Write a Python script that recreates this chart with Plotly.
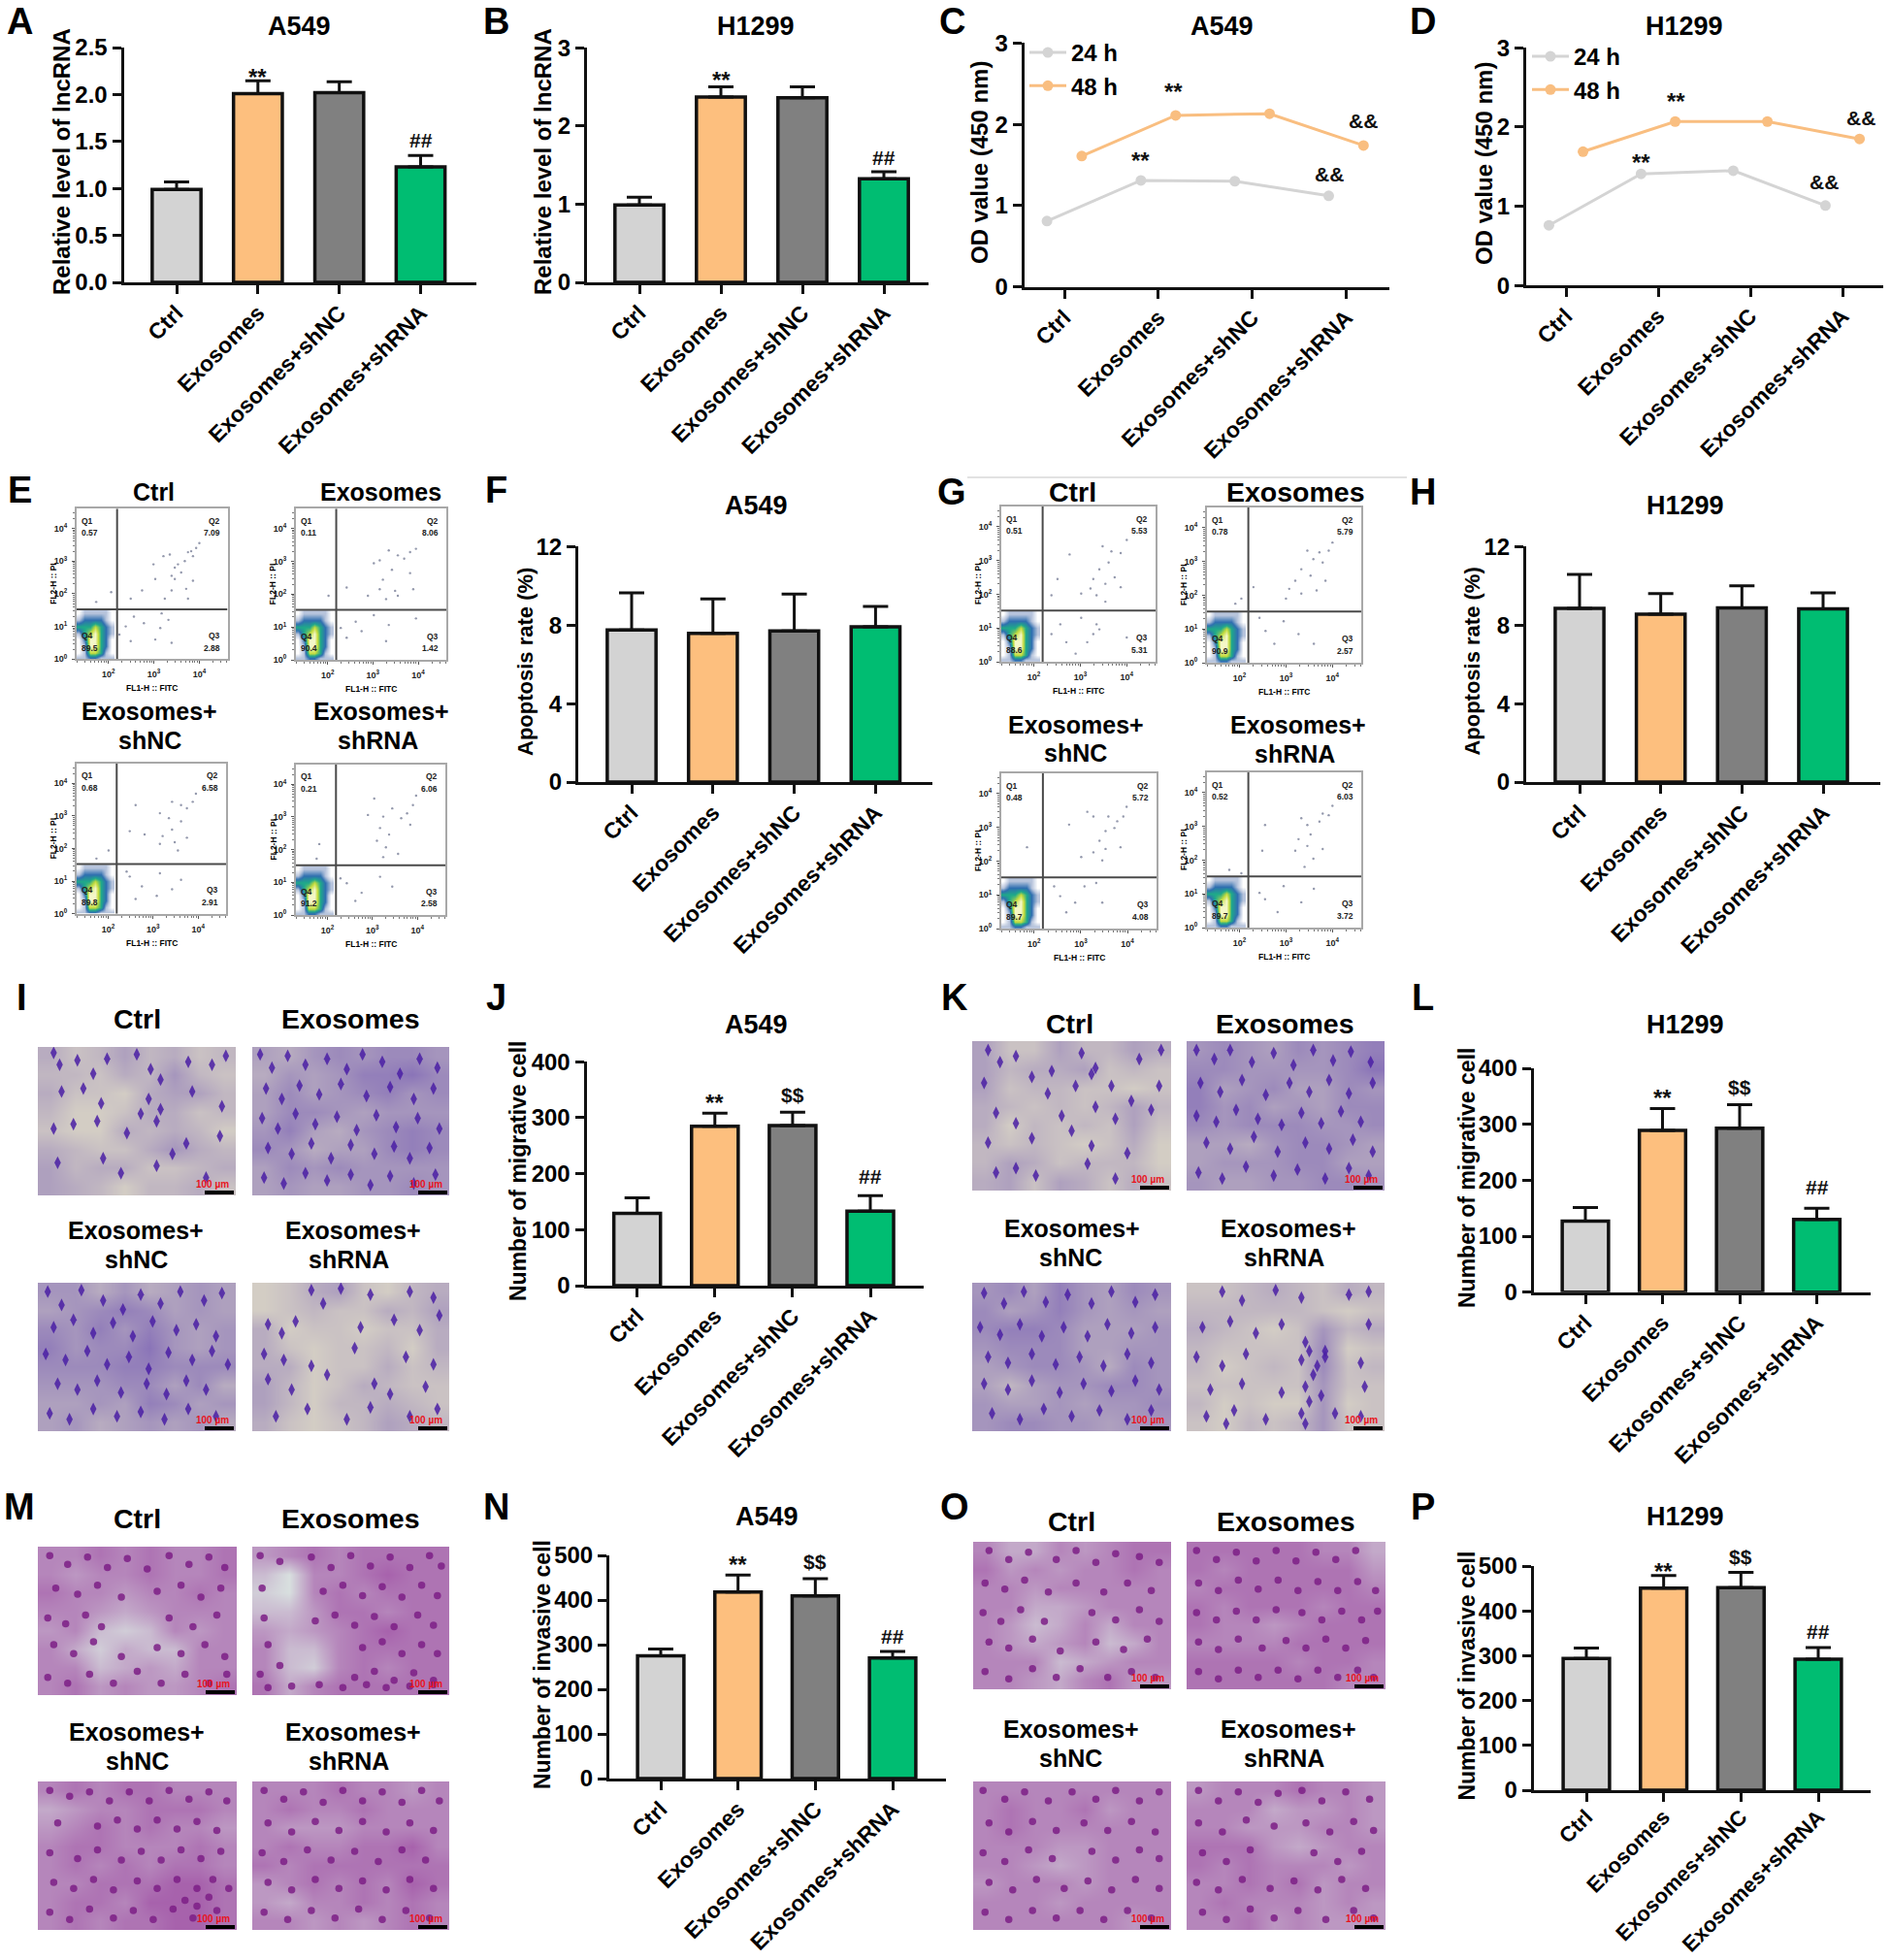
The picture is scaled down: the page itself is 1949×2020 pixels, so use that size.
import plotly.graph_objects as go

W, H = 1949, 2020
FONT = "Liberation Sans"
INK = "#111111"

groups = ["Ctrl", "Exosomes", "Exosomes+shNC", "Exosomes+shRNA"]
bar_colors = ["#d3d3d3", "#fdbf7e", "#808080", "#00bd72"]

# --- bar values (mean, top of error bar) ---
a_mean = [0.99, 2.01, 2.02, 1.23]
a_top = [1.07, 2.145, 2.135, 1.35]
b_mean = [0.99, 2.37, 2.36, 1.325]
b_top = [1.09, 2.50, 2.50, 1.415]
f_mean = [7.75, 7.58, 7.70, 7.91]
f_top = [9.64, 9.33, 9.58, 8.95]
h_mean = [8.85, 8.55, 8.88, 8.82]
h_top = [10.58, 9.60, 10.0, 9.64]
j_mean = [129, 285, 286, 133]
j_top = [157, 308, 310, 161]
l_mean = [127, 289, 293, 130]
l_top = [151, 328, 335, 150]
n_mean = [275, 418, 409, 270]
n_top = [290, 456, 448, 285]
p_mean = [294, 451, 452, 292]
p_top = [317, 479, 486, 318]

# --- OD lines ---
c_24h = [0.81, 1.31, 1.30, 1.12]
c_48h = [1.61, 2.11, 2.13, 1.74]
d_24h = [0.76, 1.41, 1.45, 1.01]
d_48h = [1.69, 2.07, 2.07, 1.85]
line_offset = [-0.185, 0.185]

# --- flow cytometry quadrant percentages: Q1, Q2, Q3, Q4 ---
e1_q = ["0.57", "7.09", "2.88", "89.5"]
e2_q = ["0.11", "8.06", "1.42", "90.4"]
e3_q = ["0.68", "6.58", "2.91", "89.8"]
e4_q = ["0.21", "6.06", "2.58", "91.2"]
g1_q = ["0.51", "5.53", "5.31", "88.6"]
g2_q = ["0.78", "5.79", "2.57", "90.9"]
g3_q = ["0.48", "5.72", "4.08", "89.7"]
g4_q = ["0.52", "6.03", "3.72", "89.7"]

# --- flow events (log10 units) ---
e1_x = [4.0,3.93,3.82,3.75,3.86,3.68,3.35,3.21,3.46,3.39,2.99,3.03,3.6,3.86,3.39,3.71,2.74,2.49,3.24,3.75,2.06,1.73,3.46,3.53,2.56,2.38,2.78,3.14,3.32,3.03,2.49,3.39,3.17,2.24]
e1_y = [3.55,3.4,3.3,3.27,3.15,3.0,3.2,3.15,2.8,2.55,2.9,2.45,2.65,2.4,2.1,2.15,2.1,1.85,1.85,1.85,2.05,1.75,2.45,2.9,1.3,1.0,1.1,0.95,1.2,0.6,0.55,0.5,1.4,0.75]
e2_x = [3.95,3.82,3.69,3.55,3.35,3.15,3.02,3.42,3.22,3.82,3.15,3.49,3.89,2.89,2.42,2.02,3.29,3.55,2.62,2.29,2.75,3.35,3.02,2.42,3.29,3.95]
e2_y = [3.38,3.28,3.08,3.18,3.33,3.03,2.94,2.74,2.44,2.64,2.15,2.1,2.15,1.95,2.2,1.95,1.85,1.95,1.16,0.97,0.87,1.06,1.36,0.67,0.57,1.26]
e3_x = [3.95,3.88,3.75,3.62,3.42,3.15,3.35,3.62,3.42,3.21,3.48,3.15,3.75,2.61,2.48,2.81,2.01,1.74,3.55,2.48,2.75,3.15,3.62,3.08,2.61,2.41,3.42]
e3_y = [3.68,3.43,3.23,3.33,3.43,3.08,2.93,2.83,2.58,2.38,2.19,2.14,2.33,3.33,2.53,2.43,1.94,1.69,1.94,1.14,0.84,1.24,1.04,0.55,0.45,1.29,0.75]
e4_x = [3.97,3.9,3.77,3.64,3.44,3.24,3.04,3.17,3.37,3.84,3.3,3.1,3.57,3.24,1.82,1.76,2.9,2.29,2.76,3.17,3.44,2.62,2.43]
e4_y = [3.65,3.36,3.11,2.96,3.26,3.01,3.56,2.66,2.46,2.76,2.07,2.27,1.87,1.77,2.17,1.72,3.06,1.12,0.68,1.17,0.87,0.43,0.97]
g1_x = [4.0,3.87,3.67,3.48,3.61,3.41,3.28,3.74,3.54,3.22,3.35,3.87,3.02,2.51,2.77,2.38,3.54,3.35,3.28,3.15,3.41,2.57,2.38,3.02,4.0,2.9,2.7]
g1_y = [3.61,3.22,3.27,3.42,2.94,2.74,2.45,2.5,2.31,2.17,1.97,2.21,2.02,2.45,3.18,1.97,1.78,1.11,0.82,0.58,0.96,1.11,0.82,1.3,0.72,0.24,0.58]
g2_x = [4.0,3.92,3.72,3.46,3.59,3.79,3.33,3.53,3.2,3.85,3.07,3.33,3.66,2.3,3.0,2.04,1.91,2.56,2.95,3.27,3.6,2.75,2.43]
g2_y = [3.56,3.32,3.27,3.32,3.07,2.97,2.77,2.58,2.43,2.43,2.19,2.05,2.14,2.24,1.9,1.9,1.75,0.94,1.23,0.85,0.56,0.56,1.33]
g3_x = [3.98,3.91,3.78,3.59,3.27,3.14,3.72,3.53,3.4,3.53,3.27,3.85,2.75,3.01,1.85,3.46,2.56,2.88,3.46,3.08,3.33,2.43,2.69]
g3_y = [3.61,3.32,3.18,3.32,3.32,3.46,2.98,2.89,2.6,2.36,2.26,2.41,3.08,2.12,2.41,2.02,0.96,0.77,0.77,1.25,1.35,1.25,0.48]
g4_x = [4.0,3.92,3.72,3.79,3.46,3.33,3.53,3.27,3.46,3.2,3.79,3.59,3.4,2.49,2.55,1.78,2.04,2.55,2.95,3.33,3.6,2.82,2.43]
g4_y = [3.61,3.33,3.14,3.38,3.04,3.24,2.76,2.62,2.42,2.28,2.33,2.04,1.8,2.28,3.04,1.71,1.61,0.84,1.23,0.75,1.15,0.46,1.03]

# dense Q4 population: estimated pseudo-colour level on a coarse log grid
q4_lx = [1.35, 1.47, 1.59, 1.71, 1.83, 1.95, 2.07]
q4_ly = [0.05, 0.2, 0.4, 0.6, 0.8, 1.0, 1.2, 1.4]
q4_level = [
    [1, 1, 2, 2, 1, 1, 1],
    [0, 1, 4, 4, 3, 1, 0],
    [0, 1, 5, 5, 3, 2, 0],
    [0, 2, 5, 5, 3, 2, 0],
    [1, 3, 4, 5, 3, 2, 1],
    [3, 3, 3, 4, 3, 2, 1],
    [1, 2, 2, 2, 2, 1, 0],
    [0, 1, 1, 1, 1, 1, 0],
]

# --- stain density estimated on an 8x8 grid over every micrograph (top row first) ---
i1 = ["42353423","33243632","42214553","31124423","21143431","43224643","53442234","54313342"]
i2 = ["54676776","46568897","57567867","57765666","68546787","76455787","57676666","56556676"]
i3 = ["66464565","56787565","76868656","86779656","77788777","66677574","55658756","56456564"]
i4 = ["12452134","12322435","41221224","42122314","44122423","53124322","53133432","42123543"]
k1 = ["52253354","53445232","52332212","43232353","41323252","32321241","35423331","45254242"]
k2 = ["67657678","77666679","85675576","86756577","76777667","55467765","56667755","65566776"]
k3 = ["67586576","75686565","78875556","67775566","56776476","53566776","65565667","67766566"]
k4 = ["22343243","33333212","43212634","32222712","31232723","22222622","31211612","21323622"]
m1 = ["66767667","65667667","76656676","66545666","56323656","64243366","66345466","67565567"]
m2 = ["56767777","31667877","21676777","33577677","54567877","63367777","63267677","74677777"]
m3 = ["67677666","45667776","56767665","67766676","67676776","66777887","67768887","67677887"]
m4 = ["66676656","67667666","65556666","67667786","76777777","56767687","54667676","66565676"]
o1 = ["64465677","75656676","66566666","66445666","65346466","65456346","66634566","66546755"]
o2 = ["77777664","76777775","67777776","76777677","76656777","66667777","77776776","77777766"]
o3 = ["66666666","67667566","67666666","66655666","66545666","56665666","66656666","66666656"]
o4 = ["56667665","66645565","66555665","77754566","76766656","66767566","67666565","66756555"]

# --- most conspicuous stained cells, estimated in percent of each micrograph ---
i1_x = [8,11,20,28,35,50,57,62,76,88,95,12,23,32,56,62,78,93,8,18,30,45,52,60,75,92,10,33,42,60,68,85]
i1_y = [4,12,9,18,8,5,15,22,10,12,6,30,28,38,35,42,30,40,55,52,50,58,45,50,65,60,78,75,85,80,72,88]
i2_x = [4,10,18,27,38,48,56,66,75,85,94,7,15,24,34,45,58,70,82,92,5,13,22,32,43,53,63,73,84,95,8,20,30,40,50,62,72,80,90,6,16,27,38,50,60,70,82,93]
i2_y = [5,14,6,12,8,15,5,10,18,8,14,28,35,26,32,25,33,27,35,28,48,55,45,52,47,56,46,54,48,55,68,72,65,75,66,72,67,75,68,88,92,85,90,86,93,87,92,86]
i3_x = [5,12,22,33,43,52,62,72,84,93,8,18,28,38,48,58,70,80,90,4,14,25,35,46,56,66,78,88,96,10,20,30,42,55,65,75,85,6,16,28,40,52,64,76,90]
i3_y = [6,15,5,12,18,8,14,6,12,7,30,25,34,27,36,26,32,28,36,48,52,46,55,50,58,47,52,46,55,68,72,66,74,68,75,66,72,88,92,85,90,87,92,85,90]
i4_x = [30,36,45,60,80,92,8,15,22,55,72,85,95,6,16,30,52,78,92,8,20,38,62,70,88,12,28,48,60,80,94]
i4_y = [5,14,4,8,6,10,28,34,26,30,25,32,22,48,52,56,44,50,55,65,72,62,68,75,70,90,85,92,84,90,85]
k1_x = [8,14,22,40,55,62,70,84,95,6,30,38,52,60,80,94,12,22,45,62,72,90,8,30,50,78,22,32,58,72,12,60]
k1_y = [6,14,10,20,8,18,30,12,6,28,24,35,30,22,40,30,48,55,50,44,52,46,68,65,60,75,85,90,82,92,88,70]
k2_x = [5,14,22,33,44,54,64,74,83,93,7,17,28,40,52,62,72,82,94,5,15,25,36,48,58,68,78,88,10,22,34,46,60,72,84,94,6,18,30,44,56,70,82,92]
k2_y = [6,12,6,14,8,16,6,13,7,14,28,34,26,36,28,34,26,35,28,50,54,46,52,56,48,55,47,54,68,72,64,74,68,72,66,74,88,92,84,90,86,92,85,90]
k3_x = [6,16,26,37,48,60,70,82,92,4,14,24,35,46,58,68,80,92,8,18,30,42,54,66,78,90,6,18,30,44,56,70,82,94,10,24,36,50,64,78,90]
k3_y = [7,14,6,13,8,14,6,13,8,30,35,28,36,30,36,28,34,30,50,54,48,55,50,56,48,54,68,72,66,74,68,73,66,72,88,92,85,90,86,92,86]
k4_x = [18,28,45,58,82,92,8,22,35,48,60,70,92,5,18,30,58,62,66,70,88,12,28,48,60,64,68,90,10,24,40,58,62,75,88,60,20]
k4_y = [6,12,5,10,8,6,30,26,34,28,40,46,28,50,56,48,52,46,56,50,54,72,68,74,70,62,76,70,90,86,92,88,80,88,90,95,95]
m1_x = [6,15,25,35,45,55,66,76,86,94,9,20,30,42,60,72,82,92,5,14,24,32,66,78,90,8,18,28,42,60,72,84,94,5,15,26,38,50,62,74,86,95]
m1_y = [6,12,7,14,8,15,6,12,7,14,28,32,26,34,30,26,34,28,48,52,46,54,48,54,46,66,72,64,74,68,72,66,74,88,92,86,92,84,92,86,92,86]
m2_x = [4,14,30,40,50,60,70,80,90,96,5,36,46,56,66,76,86,94,6,32,42,52,62,72,84,92,8,56,66,76,86,94,4,14,52,62,72,82,92,8,20,34,46,58,68,80,92]
m2_y = [6,10,7,14,6,13,7,14,6,13,28,30,26,33,27,34,26,33,48,50,46,53,47,54,46,53,66,68,64,72,66,72,86,80,88,84,90,85,90,95,94,93,95,93,95,94,93]
m3_x = [6,16,26,36,46,56,66,76,86,95,10,30,40,50,60,70,80,90,6,20,30,42,52,62,72,82,92,8,18,28,38,50,60,70,80,88,96,6,16,26,38,48,58,68,78,90,74,80,86]
m3_y = [6,10,7,13,7,13,6,12,7,13,28,30,26,32,26,32,27,33,48,52,46,53,47,53,46,52,47,68,72,66,73,67,72,66,72,66,72,88,93,86,92,87,93,86,92,87,80,84,78]
m4_x = [6,16,26,36,46,56,66,76,86,95,8,20,32,44,56,68,80,92,5,16,28,40,52,64,76,88,8,20,32,44,56,68,80,92,6,18,30,42,54,66,78,90]
m4_y = [6,12,7,14,6,13,7,14,6,13,28,34,27,33,27,34,28,33,48,54,46,53,47,54,46,53,68,73,66,72,67,73,66,72,88,93,87,92,86,93,87,92]
o1_x = [8,18,28,42,52,62,72,84,94,6,16,26,38,52,66,78,90,5,14,24,36,60,72,84,94,8,18,30,44,62,76,88,6,18,30,42,54,68,80,92]
o1_y = [6,12,7,12,6,14,8,10,14,28,32,26,34,28,34,28,33,48,54,46,54,48,53,46,54,68,72,66,74,68,73,66,88,93,86,92,86,92,88,92]
o2_x = [5,15,25,35,45,55,65,75,85,6,16,26,36,46,56,66,76,86,95,5,15,25,35,45,58,68,78,88,96,6,16,26,38,50,60,70,80,90,6,16,26,36,46,56,66,76,86,94]
o2_y = [6,12,7,13,6,13,7,12,6,28,33,26,32,26,33,27,33,27,33,48,53,47,53,46,48,53,47,53,47,68,73,66,72,67,72,66,72,67,88,93,87,92,87,93,87,92,87,92]
o3_x = [5,16,26,38,50,62,72,84,94,8,18,30,42,56,68,80,92,5,16,28,40,60,72,84,94,8,20,32,46,58,70,82,94,6,18,30,42,54,66,78,90]
o3_y = [6,12,7,13,7,12,6,13,7,28,34,27,33,28,33,27,34,48,54,46,52,47,53,46,52,68,73,66,72,67,73,66,72,88,93,87,92,87,93,87,92]
o4_x = [6,16,26,36,46,58,68,80,92,6,18,30,44,60,72,84,94,8,20,32,64,76,88,5,16,28,42,54,66,78,90,8,20,32,44,56,70,84,94]
o4_y = [6,13,7,14,8,6,13,7,12,28,34,26,30,28,34,27,33,48,54,46,48,54,47,68,73,66,72,67,73,66,72,88,93,86,92,87,93,87,92]

fig = go.Figure()
layout = {}
annotations = []
shapes = []
axis_count = [0]


def new_axes(px0, px1, py_top, py_bot, xa, ya):
    axis_count[0] += 1
    n = axis_count[0]
    sx = "" if n == 1 else str(n)
    layout["xaxis" + sx] = dict(domain=[px0 / W, px1 / W], anchor="y" + sx, automargin=False, **xa)
    layout["yaxis" + sx] = dict(domain=[1 - py_bot / H, 1 - py_top / H], anchor="x" + sx, automargin=False, **ya)
    return "x" + sx, "y" + sx


def text(px, py, s, size=24, bold=True, angle=0, color="#000000"):
    annotations.append(dict(
        x=px / W, y=1 - py / H, xref="paper", yref="paper", text=s, showarrow=False,
        xanchor="center", yanchor="middle", textangle=angle,
        font=dict(family=FONT, size=size, color=color, weight=700 if bold else 400),
    ))


def marks(xr, py_top, py_bot, ymax, items):
    # x follows the panel's axis; y is placed on the page because some marks sit above the axis range
    for mx, my, s in items:
        star = s == "**"
        py = py_bot - my / ymax * (py_bot - py_top)
        annotations.append(dict(
            x=mx, y=1 - py / H, xref=xr, yref="paper", text=s, showarrow=False,
            xanchor="center", yanchor="middle", yshift=-5 if star else 0,
            font=dict(family=FONT, size=24 if star else 21, color=INK, weight=700),
        ))


def chart_axes(px0, px1, py_top, py_bot, first, last, ymax, yticks, yticktext, xsize=23, standoff=-3):
    s = (last - first) / 3
    xa = dict(
        range=[(px0 - first) / s, (px1 - first) / s], tickmode="array", tickvals=[0, 1, 2, 3],
        ticktext=groups, tickangle=-45, ticks="outside", ticklen=9, tickwidth=3, tickcolor=INK,
        ticklabelstandoff=standoff,
        showline=True, linewidth=3, linecolor=INK, showgrid=False, zeroline=False,
        tickfont=dict(family=FONT, size=xsize, color="#000", weight=700),
    )
    ya = dict(
        range=[0, ymax], tickmode="array", tickvals=yticks, ticktext=yticktext,
        ticks="outside", ticklen=9, tickwidth=3, tickcolor=INK, showline=True, linewidth=3,
        linecolor=INK, showgrid=False, zeroline=False,
        tickfont=dict(family=FONT, size=24, color="#000", weight=700),
    )
    return new_axes(px0, px1, py_top, py_bot, xa, ya)


def bar_panel(px0, px1, py_top, py_bot, first, last, ymax, yticks, yticktext, mean, top, extra,
              title, tx, ty, ylabel, ylx, yly, ysize=24, xsize=23, standoff=-3):
    xr, yr = chart_axes(px0, px1, py_top, py_bot, first, last, ymax, yticks, yticktext, xsize, standoff)
    fig.add_trace(go.Bar(
        x=[0, 1, 2, 3], y=mean, width=0.6, xaxis=xr, yaxis=yr, showlegend=False,
        marker=dict(color=bar_colors, line=dict(color=INK, width=3.5)),
        error_y=dict(type="data", symmetric=False, array=[t - m for t, m in zip(top, mean)],
                     arrayminus=[0, 0, 0, 0], color=INK, thickness=3, width=13),
    ))
    marks(xr, py_top, py_bot, ymax, extra)
    text(tx, ty, title, size=27)
    text(ylx, yly, ylabel, size=ysize, angle=-90)


def line_panel(px0, px1, py_top, py_bot, first, last, y24, y48, extra, title, tx, ty, ylx, yly, lg):
    xr, yr = chart_axes(px0, px1, py_top, py_bot, first, last, 3, [0, 1, 2, 3], ["0", "1", "2", "3"])
    for name, vals, col, off in (("24 h", y24, "#d4d4d4", line_offset[0]), ("48 h", y48, "#f9be80", line_offset[1])):
        fig.add_trace(go.Scatter(
            x=[i + off for i in range(4)], y=vals, mode="lines+markers", name=name, xaxis=xr, yaxis=yr,
            legend=lg, line=dict(color=col, width=3), marker=dict(color=col, size=11),
        ))
    marks(xr, py_top, py_bot, 3, extra)
    text(tx, ty, title, size=27)
    text(ylx, yly, "OD value (450 nm)", angle=-90)


minor_vals = [d + m for d in range(0, 5) for m in (0.301, 0.477, 0.602, 0.699, 0.778, 0.845, 0.903, 0.954)]


def flow_panel(px0, px1, py_top, py_bot, q, ex, ey):
    base = dict(
        ticks="outside", ticklen=3, tickwidth=1, tickcolor="#555", showline=True, mirror=True,
        linewidth=2, linecolor="#a8a8a8", showgrid=False, zeroline=False, tickmode="array",
        ticklabelstandoff=3,
        tickfont=dict(family=FONT, size=9, color="#222", weight=700),
        minor=dict(tickmode="array", tickvals=minor_vals, ticks="outside", ticklen=2, tickcolor="#777", tickwidth=1),
    )
    xa = dict(range=[1.3, 4.62], tickvals=[2, 3, 4],
              ticktext=["10<sup>2</sup>", "10<sup>3</sup>", "10<sup>4</sup>"], **base)
    ya = dict(range=[0, 4.6], tickvals=[0, 1, 2, 3, 4],
              ticktext=["10<sup>0</sup>", "10<sup>1</sup>", "10<sup>2</sup>", "10<sup>3</sup>", "10<sup>4</sup>"], **base)
    xr, yr = new_axes(px0, px1, py_top, py_bot, xa, ya)
    fig.add_trace(go.Heatmap(
        x=q4_lx, y=q4_ly, z=q4_level, xaxis=xr, yaxis=yr, zmin=0, zmax=5, zsmooth="best", showscale=False,
        colorscale=[[0, "#ffffff"], [0.2, "#b7c4dc"], [0.4, "#2f6fb0"], [0.6, "#1fa98a"], [0.8, "#c5dc3c"], [1, "#f4f7c8"]],
    ))
    fig.add_trace(go.Scatter(
        x=ex, y=ey, mode="markers", xaxis=xr, yaxis=yr, showlegend=False,
        marker=dict(size=2.4, color="#6f7690", opacity=0.75),
    ))
    for kw in (dict(x0=2.19, x1=2.19, y0=0, y1=4.6), dict(x0=1.3, x1=4.62, y0=1.52, y1=1.52)):
        shapes.append(dict(type="line", xref=xr, yref=yr, line=dict(color="#4a4a4a", width=2), **kw))
    labels = [(1.36, 4.23, "Q1", "left"), (1.36, 3.87, q[0], "left"),
              (4.5, 4.23, "Q2", "right"), (4.5, 3.87, q[1], "right"),
              (4.5, 0.72, "Q3", "right"), (4.5, 0.35, q[2], "right"),
              (1.36, 0.72, "Q4", "left"), (1.36, 0.35, q[3], "left")]
    for lx, ly, s, anchor in labels:
        annotations.append(dict(x=lx, y=ly, xref=xr, yref=yr, text=s, showarrow=False, xanchor=anchor,
                                font=dict(family=FONT, size=8.5, color="#222", weight=700)))
    text((px0 + px1) / 2, py_bot + 30, "FL1-H :: FITC", size=8.5)
    text(px0 - 24, (py_top + py_bot) / 2, "FL2-H :: PI", size=8.5, angle=-90)


def photo(px0, px1, py_top, py_bot, rows, cx, cy, style):
    hidden = dict(showgrid=False, zeroline=False, showline=False, ticks="", showticklabels=False,
                  tickmode="array", tickvals=[])
    xr, yr = new_axes(px0, px1, py_top, py_bot, dict(range=[0, 100], **hidden), dict(range=[100, 0], **hidden))
    fig.add_trace(go.Heatmap(
        z=[[int(c) for c in r] for r in rows], x0=6.25, dx=12.5, y0=6.25, dy=12.5, xaxis=xr, yaxis=yr,
        zmin=0, zmax=9, zsmooth="best", showscale=False, colorscale=style["scale"],
    ))
    fig.add_trace(go.Scatter(
        x=cx, y=cy, mode="markers", xaxis=xr, yaxis=yr, showlegend=False,
        marker=dict(symbol=style["symbol"], size=style["size"], color=style["cell"], opacity=0.85, line=dict(width=0)),
    ))
    shapes.append(dict(type="line", xref="paper", yref="paper", x0=(px1 - 32) / W, x1=(px1 - 2) / W,
                       y0=1 - (py_bot - 3) / H, y1=1 - (py_bot - 3) / H, line=dict(color="#000", width=4)))
    text(px1 - 24, py_bot - 12, "100 µm", size=10, color="#e8141c")


mig = dict(scale=[[0, "#dcd8c6"], [1, "#8a74b8"]], cell="#4a1fa5", symbol="diamond-tall", size=9.5)
inv = dict(scale=[[0, "#dff1e6"], [1, "#a050a5"]], cell="#7d1f86", symbol="circle", size=7.5)

# Row 1
bar_panel(127.5, 491, 49, 291, 182, 433.5, 2.5, [0, 0.5, 1, 1.5, 2, 2.5], ["0.0", "0.5", "1.0", "1.5", "2.0", "2.5"],
          a_mean, a_top, [(1, 2.24, "**"), (3, 1.51, "##")], "A549", 308, 27, "Relative level of lncRNA", 64, 167)
bar_panel(605, 956.5, 49.3, 291, 659, 911, 3, [0, 1, 2, 3], ["0", "1", "2", "3"],
          b_mean, b_top, [(1, 2.65, "**"), (3, 1.59, "##")], "H1299", 779, 27, "Relative level of lncRNA", 560, 167)
line_panel(1055.7, 1431.5, 44.3, 295.7, 1097, 1387.4, c_24h, c_48h,
           [(0.815, 1.61, "**"), (1.16, 2.455, "**"), (2.82, 1.39, "&&"), (3.18, 2.04, "&&")],
           "A549", 1259, 27, 1010, 168, "legend")
line_panel(1573, 1941, 49.3, 294.3, 1614, 1899, d_24h, d_48h,
           [(0.82, 1.61, "**"), (1.19, 2.39, "**"), (2.8, 1.31, "&&"), (3.2, 2.11, "&&")],
           "H1299", 1736, 27, 1530, 169, "legend2")

# Row 2
bar_panel(596, 961, 563.3, 806, 651, 902.4, 12, [0, 4, 8, 12], ["0", "4", "8", "12"],
          f_mean, f_top, [], "A549", 779, 521, "Apoptosis rate (%)", 541, 682, ysize=22)
bar_panel(1573, 1937.7, 563.3, 806, 1628, 1879, 12, [0, 4, 8, 12], ["0", "4", "8", "12"],
          h_mean, h_top, [], "H1299", 1737, 521, "Apoptosis rate (%)", 1516.6, 682, ysize=22)
flow_panel(79, 234.5, 524.3, 679.3, e1_q, e1_x, e1_y)
flow_panel(305, 460, 524.3, 680, e2_q, e2_x, e2_y)
flow_panel(79, 233, 787, 941.7, e3_q, e3_x, e3_y)
flow_panel(305, 459, 788, 943, e4_q, e4_x, e4_y)
flow_panel(1032, 1191, 522, 682, g1_q, g1_x, g1_y)
flow_panel(1244, 1403, 523, 683, g2_q, g2_x, g2_y)
flow_panel(1032, 1192, 797, 957, g3_q, g3_x, g3_y)
flow_panel(1244, 1403, 796, 956, g4_q, g4_x, g4_y)

# Row 3
photo(39, 243, 1079, 1232, i1, i1_x, i1_y, mig)
photo(260, 463, 1079, 1232, i2, i2_x, i2_y, mig)
photo(39, 243, 1322, 1475, i3, i3_x, i3_y, mig)
photo(260, 463, 1322, 1475, i4, i4_x, i4_y, mig)
photo(1002, 1207, 1073, 1227, k1, k1_x, k1_y, mig)
photo(1223, 1427, 1073, 1227, k2, k2_x, k2_y, mig)
photo(1002, 1207, 1322, 1475, k3, k3_x, k3_y, mig)
photo(1223, 1427, 1322, 1475, k4, k4_x, k4_y, mig)
bar_panel(604.5, 951.5, 1094.3, 1325, 656.7, 897, 400, [0, 100, 200, 300, 400], ["0", "100", "200", "300", "400"],
          j_mean, j_top, [(1, 335, "**"), (2, 341, "$$"), (3, 195, "##")], "A549", 779, 1056,
          "Number of migrative cell", 534, 1207, ysize=23)
bar_panel(1580.6, 1928, 1101, 1331.7, 1634, 1872.5, 400, [0, 100, 200, 300, 400], ["0", "100", "200", "300", "400"],
          l_mean, l_top, [(1, 355, "**"), (2, 367, "$$"), (3, 187, "##")], "H1299", 1736.5, 1056,
          "Number of migrative cell", 1512, 1214, ysize=23)

# Row 4
photo(39, 244, 1594, 1747, m1, m1_x, m1_y, inv)
photo(260, 463, 1594, 1747, m2, m2_x, m2_y, inv)
photo(39, 244, 1836, 1989, m3, m3_x, m3_y, inv)
photo(260, 463, 1836, 1989, m4, m4_x, m4_y, inv)
photo(1003, 1207, 1589, 1741, o1, o1_x, o1_y, inv)
photo(1223, 1428, 1589, 1741, o2, o2_x, o2_y, inv)
photo(1003, 1207, 1836, 1989, o3, o3_x, o3_y, inv)
photo(1223, 1428, 1836, 1989, o4, o4_x, o4_y, inv)
bar_panel(628, 975, 1603, 1833, 681, 920, 500, [0, 100, 200, 300, 400, 500], ["0", "100", "200", "300", "400", "500"],
          n_mean, n_top, [(1, 490, "**"), (2, 485, "$$"), (3, 319, "##")], "A549", 790, 1563,
          "Number of invasive cell", 559, 1716, ysize=23)
bar_panel(1580.6, 1928, 1614, 1845, 1635, 1874, 500, [0, 100, 200, 300, 400, 500], ["0", "100", "200", "300", "400", "500"],
          p_mean, p_top, [(1, 500, "**"), (2, 520, "$$"), (3, 353, "##")], "H1299", 1736.5, 1563,
          "Number of invasive cell", 1512, 1727.6, ysize=23, xsize=22, standoff=-6)

# Sample labels over image panels
for px, py, s, sz in [
    (158.6, 507, "Ctrl", 25), (392, 507, "Exosomes", 25), (154, 733, "Exosomes+", 25), (154, 763, "shNC", 25), (393, 733, "Exosomes+", 25), (389, 763, "shRNA", 25),
    (1105, 507, "Ctrl", 28.5), (1335, 507, "Exosomes", 28.5), (1108.5, 747, "Exosomes+", 25), (1108.5, 776, "shNC", 25), (1338, 747, "Exosomes+", 25), (1334, 777, "shRNA", 25),
    (141, 1050, "Ctrl", 28.5), (361, 1050, "Exosomes", 28.5), (140, 1268, "Exosomes+", 25), (140, 1298, "shNC", 25), (364, 1268, "Exosomes+", 25), (359.5, 1298, "shRNA", 25),
    (1102, 1055, "Ctrl", 28.5), (1324, 1055, "Exosomes", 28.5), (1105, 1266, "Exosomes+", 25), (1103.6, 1296, "shNC", 25), (1328, 1266, "Exosomes+", 25), (1323, 1296, "shRNA", 25),
    (141, 1565, "Ctrl", 28.5), (361, 1565, "Exosomes", 28.5), (141, 1785, "Exosomes+", 25), (141, 1815, "shNC", 25), (364, 1785, "Exosomes+", 25), (359.5, 1815, "shRNA", 25),
    (1104, 1568, "Ctrl", 28.5), (1325, 1568, "Exosomes", 28.5), (1103.6, 1782, "Exosomes+", 25), (1103.6, 1812, "shNC", 25), (1328, 1782, "Exosomes+", 25), (1323, 1812, "shRNA", 25),
]:
    text(px, py, s, size=sz)

# Panel letters
for px, py, s in [
    (20, 22, "A"), (511, 22, "B"), (981, 22, "C"), (1466, 22, "D"),
    (20, 505, "E"), (511, 505, "F"), (981, 507, "G"), (1466, 507, "H"),
    (22, 1028, "I"), (511, 1028, "J"), (984, 1028, "K"), (1466, 1028, "L"),
    (20, 1553, "M"), (511, 1553, "N"), (984, 1553, "O"), (1466, 1553, "P"),
]:
    text(px, py, s, size=38)

shapes.append(dict(type="line", xref="paper", yref="paper", x0=997 / W, x1=1450 / W, y0=1 - 492 / H, y1=1 - 492 / H,
                   line=dict(color="#e2e2e2", width=2)))


def legend_at(px, py):
    return dict(x=px / W, y=1 - py / H, xanchor="left", yanchor="top", bgcolor="rgba(0,0,0,0)", borderwidth=0,
                itemwidth=38, font=dict(family=FONT, size=24, color="#000", weight=700), tracegroupgap=0)


fig.update_layout(
    template="none",
    width=W, height=H, autosize=False, margin=dict(l=0, r=0, t=0, b=0, pad=0),
    paper_bgcolor="#ffffff", plot_bgcolor="rgba(0,0,0,0)", showlegend=True, hovermode=False,
    legend=legend_at(1056, 32), legend2=legend_at(1574, 36),
    annotations=annotations, shapes=shapes, **layout,
)
fig.write_html("out.html", post_script="document.body.style.margin='0';", config={"displayModeBar": False})
